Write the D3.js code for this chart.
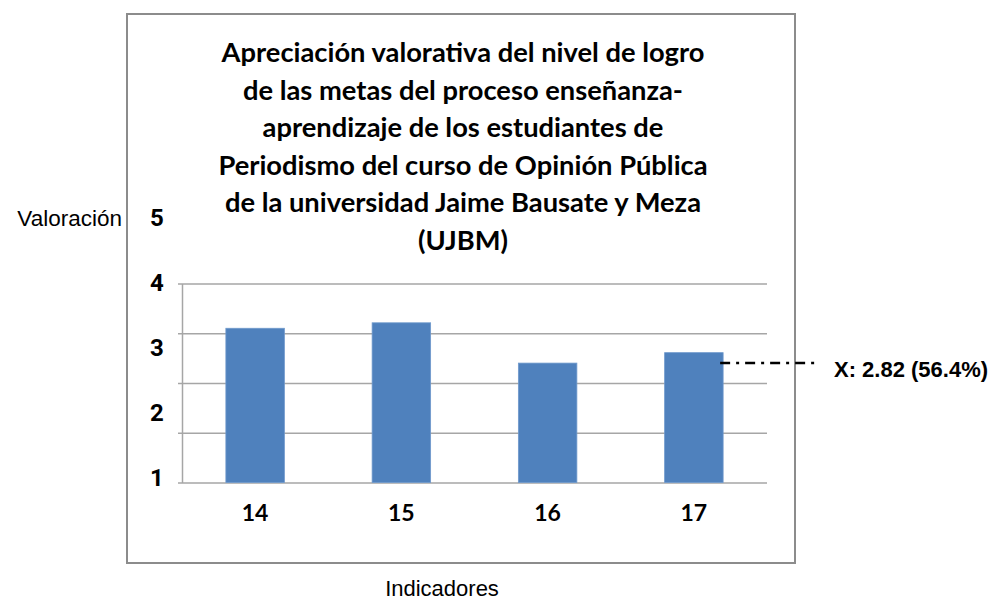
<!DOCTYPE html>
<html>
<head>
<meta charset="utf-8">
<script src="https://cdn.jsdelivr.net/npm/d3@7"></script>
<style>
  body { margin: 0; background: #fff; }
  svg { display: block; }
</style>
</head>
<body>
<div id="chart"></div>
<script>
// data (bar heights in gridline units, 0..4)
var categories = ["14", "15", "16", "17"];
var values = [3.10, 3.21, 2.40, 2.61];
var gridTicks = [0, 1, 2, 3, 4];
var tickLabels = [5, 4, 3, 2, 1];
var titleLines = [
    "Apreciación valorativa del nivel de logro",
    "de las metas del proceso enseñanza-",
    "aprendizaje de los estudiantes de",
    "Periodismo  del curso de Opinión Pública",
    "de la universidad Jaime Bausate y Meza",
    "(UJBM)"
];
var markValue = 2.40;
var markText = "X: 2.82 (56.4%)";

var svg = d3.select("#chart").append("svg")
    .attr("width", 1003)
    .attr("height", 600);

// outer frame of the chart
svg.append("rect")
    .attr("x", 127).attr("y", 14)
    .attr("width", 668).attr("height", 549)
    .style("fill", "none")
    .style("stroke", "#8c8c8c")
    .style("stroke-width", 2);

// set the ranges
var x = d3.scaleBand().domain(categories)
    .range([182, 767])
    .paddingInner(0.6)
    .paddingOuter(0.3);
var y = d3.scaleLinear().domain([0, 4]).range([482.5, 283.5]);
// the 1..5 labels sit on their own spacing, not on the gridlines
var yLab = d3.scaleLinear().domain([1, 5]).range([478, 218]);

// gridlines
var grid = svg.append("g")
    .attr("transform", "translate(182,0)")
    .call(d3.axisLeft(y).tickValues(gridTicks).tickSize(-(767 - 182)).tickFormat(""));
grid.select(".domain").remove();
grid.selectAll(".tick line")
    .style("stroke", "#a6a6a6")
    .style("stroke-width", 1.5);

// left axis line with small ticks
var axl = svg.append("g")
    .attr("transform", "translate(182,0)")
    .call(d3.axisLeft(y).tickValues(gridTicks).tickSize(4).tickSizeOuter(0).tickFormat(""));
axl.select(".domain").style("stroke", "#a6a6a6").style("stroke-width", 1.5);
axl.selectAll(".tick line").style("stroke", "#a6a6a6").style("stroke-width", 1.5);

// bars
svg.selectAll("rect.bar").data(values)
    .enter()
    .append("rect")
    .attr("class", "bar")
    .attr("x", function (d, i) { return x(categories[i]); })
    .attr("y", function (d) { return y(d); })
    .attr("width", x.bandwidth())
    .attr("height", function (d) { return y(0) - y(d); })
    .style("fill", "#4f81bd")
    .style("stroke", "#6f99cc")
    .style("stroke-width", 0.8);

// x labels
var xa = svg.append("g")
    .attr("transform", "translate(0,483)")
    .call(d3.axisBottom(x).tickSize(0).tickPadding(22));
xa.select(".domain").remove();
xa.selectAll("text")
    .style("font-family", "Lato, 'Open Sans', sans-serif")
    .style("font-weight", "bold")
    .style("font-size", "23px")
    .style("fill", "#000");

// y labels 1..5
var ya = svg.append("g")
    .attr("transform", "translate(157,0)")
    .call(d3.axisLeft(yLab).tickValues(tickLabels).tickSize(0).tickPadding(0)
        .tickFormat(d3.format("d")));
ya.select(".domain").remove();
ya.selectAll("text")
    .attr("text-anchor", "middle")
    .style("font-family", "Roboto, 'Liberation Sans', sans-serif")
    .style("font-weight", "bold")
    .style("font-size", "24px")
    .style("fill", "#000");

// title
svg.append("text")
    .attr("text-anchor", "middle")
    .style("font-family", "Lato, 'Open Sans', sans-serif")
    .style("font-weight", "bold")
    .style("font-size", "27.3px")
    .style("fill", "#000")
    .selectAll("tspan").data(titleLines)
    .enter()
    .append("tspan")
    .attr("x", 463)
    .attr("y", function (d, i) { return 62 + i * 37.5; })
    .text(function (d) { return d; });

// axis titles
svg.append("text")
    .attr("x", 122).attr("y", 226)
    .attr("text-anchor", "end")
    .style("font-family", "'Liberation Sans', Arial, sans-serif")
    .style("font-size", "22.5px")
    .text("Valoración");

svg.append("text")
    .attr("x", 442).attr("y", 596)
    .attr("text-anchor", "middle")
    .style("font-family", "'Liberation Sans', Arial, sans-serif")
    .style("font-size", "22px")
    .text("Indicadores");

// dash-dot marker for indicator 17
var last = categories[categories.length - 1];
svg.append("line")
    .attr("x1", x(last) + x.bandwidth() - 3)
    .attr("x2", 818)
    .attr("y1", y(markValue))
    .attr("y2", y(markValue))
    .style("stroke", "#000")
    .style("stroke-width", 2.5)
    .style("stroke-dasharray", "10,6,3,6");

svg.append("text")
    .attr("x", 834).attr("y", y(markValue) + 14)
    .style("font-family", "'Liberation Sans', Arial, sans-serif")
    .style("font-weight", "bold")
    .style("font-size", "22px")
    .text(markText);
</script>
</body>
</html>
